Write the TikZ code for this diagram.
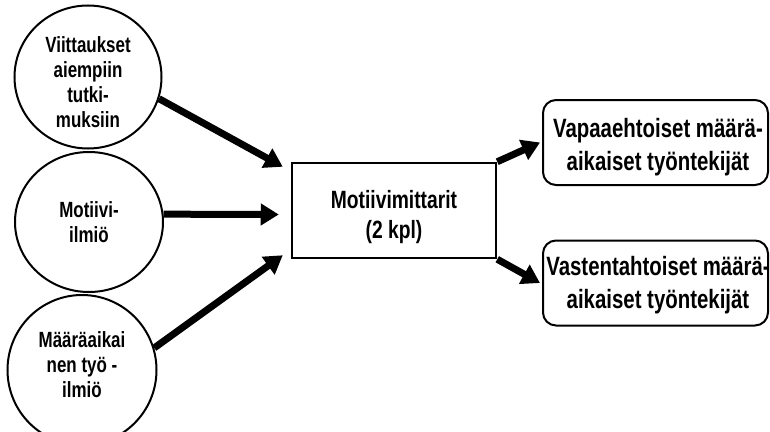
\documentclass[tikz,border=0pt]{standalone}
\usepackage{fontspec}
\setmainfont{Liberation Sans}[FakeStretch=0.77]
\usetikzlibrary{arrows.meta,shapes.geometric}
\begin{document}
\begin{tikzpicture}[x=1pt,y=-1pt,
  circ/.style={draw,ellipse,line width=2pt,inner sep=0pt},
  lbl/.style={align=center,anchor=base,font=\bfseries\fontsize{22}{25}\selectfont,inner sep=0pt},
  mid/.style={align=center,anchor=base,font=\bfseries\fontsize{25}{30}\selectfont,inner sep=0pt},
  big/.style={align=center,anchor=base,font=\bfseries\fontsize{26.5}{33.5}\selectfont,inner sep=0pt},
  arr/.style={line width=7pt,-{Triangle[length=18pt,width=21pt]}},
  rbox/.style={draw,rounded corners=13pt,line width=2pt,minimum width=225pt,minimum height=85pt,inner sep=0pt}]
\useasboundingbox (0,0) rectangle (770,431);
% left circles
\node[circ,minimum width=147pt,minimum height=143pt] (c1) at (88,77) {};
\node[circ,minimum width=148pt,minimum height=140pt] (c2) at (89,222) {};
\node[circ,minimum width=149pt,minimum height=150pt] (c3) at (82,370) {};
\node[lbl] (t1) at (88,127) {Viittaukset\\aiempiin\\tutki-\\muksiin};
\node[lbl] (t2) at (89,242) {Motiivi-\\ilmiö};
\node[lbl] (t3) at (82,397) {Määräaikai\\nen työ -\\ilmiö};
% centre box
\node[draw,line width=2.5pt,minimum width=204pt,minimum height=95pt,inner sep=0pt] (box) at (394,210.5) {};
\node[mid] (tb) at (394,238) {Motiivimittarit\\(2 kpl)};
% right boxes
\node[rbox] (r1) at (655.5,142.5) {};
\node[rbox] (r2) at (655.5,283) {};
\node[big] (tr1) at (658,170.5) {Vapaaehtoiset määrä-\\aikaiset työntekijät};
\node[big] (tr2) at (658,308.5) {Vastentahtoiset määrä-\\aikaiset työntekijät};
% arrows
\draw[arr] (c1.-17) -- ([shift={(-8,5)}]box.north west);
\draw[arr] (c2.6) -- ([shift={(-12,4)}]box.west);
\draw[arr] (c3.17) -- ([shift={(-8,-4)}]box.south west);
\draw[arr] (box.north east) -- ([xshift=-2]r1.west);
\draw[arr] (box.south east) -- ([xshift=-2]r2.west);
\end{tikzpicture}
\end{document}
